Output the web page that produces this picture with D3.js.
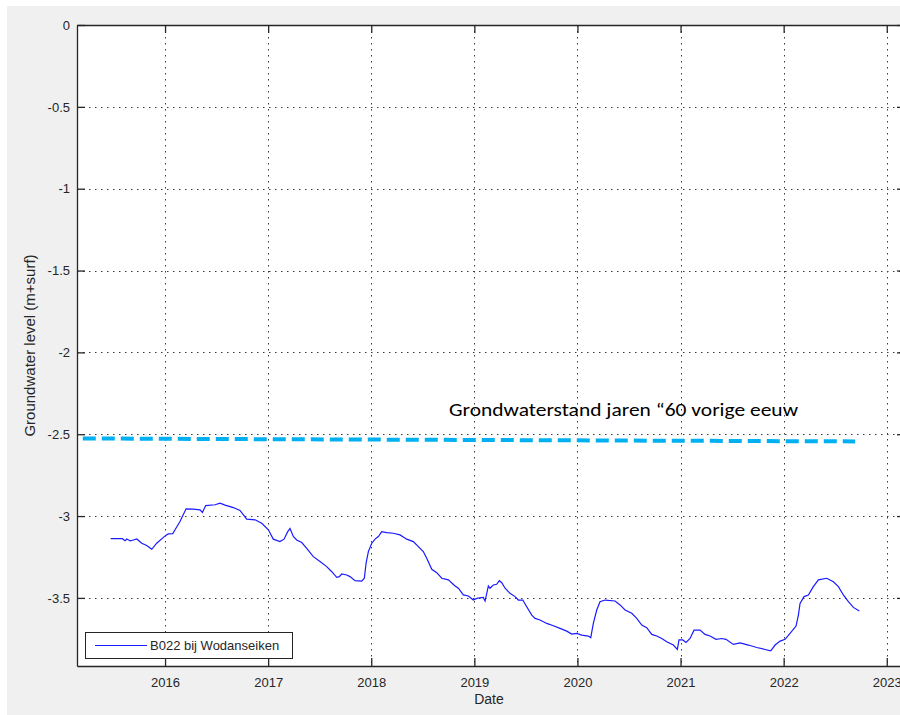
<!DOCTYPE html>
<html>
<head>
<meta charset="utf-8">
<script src="https://cdn.jsdelivr.net/npm/d3@7"></script>
<style>
  html, body { margin: 0; padding: 0; background: #ffffff; }
  svg { display: block; }
</style>
</head>
<body>
<svg id="chart" width="900" height="715"></svg>
<script>
// ---- data ----
const years = [
  2015.473, 2015.586, 2015.612, 2015.629, 2015.661, 2015.693, 2015.726, 2015.774, 2015.822, 2015.871,
  2015.919, 2015.984, 2016.010, 2016.032, 2016.075, 2016.097, 2016.145, 2016.204, 2016.274, 2016.339,
  2016.362, 2016.395, 2016.485, 2016.533, 2016.582, 2016.662, 2016.727, 2016.792, 2016.873, 2016.938,
  2017.002, 2017.050, 2017.115, 2017.154, 2017.190, 2017.212, 2017.244, 2017.277, 2017.326, 2017.374,
  2017.438, 2017.503, 2017.568, 2017.617, 2017.665, 2017.690, 2017.714, 2017.762, 2017.794, 2017.843,
  2017.908, 2017.933, 2017.950, 2017.972, 2018.005, 2018.037, 2018.069, 2018.102, 2018.150, 2018.214,
  2018.279, 2018.344, 2018.408, 2018.457, 2018.505, 2018.538, 2018.587, 2018.635, 2018.684, 2018.748,
  2018.813, 2018.845, 2018.893, 2018.942, 2018.990, 2019.023, 2019.055, 2019.087, 2019.104, 2019.136,
  2019.152, 2019.184, 2019.217, 2019.242, 2019.266, 2019.298, 2019.346, 2019.395, 2019.427, 2019.470,
  2019.508, 2019.557, 2019.589, 2019.637, 2019.702, 2019.766, 2019.831, 2019.896, 2019.945, 2019.993,
  2020.042, 2020.106, 2020.129, 2020.154, 2020.187, 2020.219, 2020.268, 2020.365, 2020.413, 2020.462,
  2020.527, 2020.575, 2020.624, 2020.672, 2020.721, 2020.769, 2020.818, 2020.866, 2020.930, 2020.969,
  2020.985, 2021.021, 2021.053, 2021.092, 2021.131, 2021.189, 2021.238, 2021.286, 2021.344, 2021.400,
  2021.441, 2021.512, 2021.577, 2021.658, 2021.739, 2021.820, 2021.875, 2021.917, 2021.966, 2022.014,
  2022.062, 2022.120, 2022.143, 2022.159, 2022.198, 2022.240, 2022.288, 2022.337, 2022.418, 2022.482,
  2022.531, 2022.579, 2022.628, 2022.676, 2022.734
];
const levels = [
  -3.138, -3.138, -3.150, -3.140, -3.152, -3.146, -3.140, -3.166, -3.180, -3.203,
  -3.166, -3.130, -3.117, -3.109, -3.107, -3.084, -3.033, -2.956, -2.958, -2.962,
  -2.978, -2.936, -2.931, -2.921, -2.933, -2.948, -2.966, -3.019, -3.023, -3.044,
  -3.084, -3.141, -3.156, -3.141, -3.095, -3.076, -3.125, -3.146, -3.162, -3.197,
  -3.248, -3.278, -3.309, -3.340, -3.374, -3.370, -3.354, -3.360, -3.370, -3.395,
  -3.397, -3.380, -3.288, -3.217, -3.166, -3.141, -3.125, -3.095, -3.101, -3.105,
  -3.115, -3.141, -3.156, -3.187, -3.217, -3.258, -3.325, -3.346, -3.380, -3.390,
  -3.427, -3.441, -3.482, -3.488, -3.513, -3.503, -3.499, -3.497, -3.519, -3.427,
  -3.441, -3.421, -3.417, -3.395, -3.407, -3.441, -3.472, -3.492, -3.513, -3.513,
  -3.554, -3.605, -3.625, -3.635, -3.656, -3.670, -3.686, -3.703, -3.721, -3.717,
  -3.727, -3.733, -3.743, -3.656, -3.574, -3.523, -3.513, -3.519, -3.543, -3.574,
  -3.594, -3.625, -3.666, -3.682, -3.723, -3.733, -3.748, -3.768, -3.788, -3.815,
  -3.757, -3.757, -3.772, -3.748, -3.697, -3.697, -3.723, -3.733, -3.753, -3.748,
  -3.753, -3.784, -3.775, -3.788, -3.803, -3.815, -3.823, -3.788, -3.764, -3.753,
  -3.717, -3.672, -3.605, -3.534, -3.492, -3.482, -3.431, -3.390, -3.380, -3.401,
  -3.431, -3.482, -3.523, -3.558, -3.580
];
const seriesName = "B022 bij Wodanseiken";

const refYears = [2015.202, 2022.693];
const refLevels = [-2.526, -2.544];
const refLabel = "Grondwaterstand jaren \u201C60 vorige eeuw";

const xTicks = [2016, 2017, 2018, 2019, 2020, 2021, 2022, 2023];
const yTicks = [0, -0.5, -1, -1.5, -2, -2.5, -3, -3.5];
const xDomain = [2015.146, 2023.177];
const yDomain = [-3.916, 0];
const xLabel = "Date";
const yLabel = "Groundwater level (m+surf)";

// ---- layout ----
const svg = d3.select("#chart");
const L = 77, R = 905, T = 25, B = 666;
const font = "Arial, 'Liberation Sans', Helvetica, sans-serif";
const axisColor = "#262626";

svg.append("rect").attr("x", 7).attr("y", 6).attr("width", 893).attr("height", 709).attr("fill", "#f0f0f0");
svg.append("rect").attr("x", L).attr("y", T).attr("width", R - L).attr("height", B - T).attr("fill", "#ffffff");

const x = d3.scaleLinear().domain(xDomain).range([L, R]);
const y = d3.scaleLinear().domain(yDomain).range([B, T]);

// grid
const grid = svg.append("g").attr("stroke", "#262626").attr("stroke-width", 1)
  .attr("stroke-dasharray", "1.5,4.5").attr("opacity", 0.9);
grid.selectAll("line.gx").data(xTicks).join("line")
  .attr("x1", d => Math.round(x(d)) + 0.5).attr("x2", d => Math.round(x(d)) + 0.5)
  .attr("y1", T).attr("y2", B);
grid.selectAll("line.gy").data(yTicks).join("line")
  .attr("y1", d => Math.round(y(d)) + 0.5).attr("y2", d => Math.round(y(d)) + 0.5)
  .attr("x1", L).attr("x2", R);

// axes (MATLAB-like inward ticks, box)
const tickLen = 8;
const xAxisB = d3.axisBottom(x).tickValues(xTicks).tickFormat(d => String(d)).tickSizeInner(-tickLen).tickSizeOuter(0).tickPadding(12);
const xAxisT = d3.axisTop(x).tickValues(xTicks).tickFormat("").tickSizeInner(-tickLen).tickSizeOuter(0);
const yAxisL = d3.axisLeft(y).tickValues(yTicks).tickFormat(d => String(d)).tickSizeInner(-tickLen).tickSizeOuter(0).tickPadding(7);
const yAxisR = d3.axisRight(y).tickValues(yTicks).tickFormat("").tickSizeInner(-tickLen).tickSizeOuter(0);

function style(g) {
  g.selectAll("path").attr("stroke", axisColor).attr("stroke-width", 1.3);
  g.selectAll("line").attr("stroke", axisColor).attr("stroke-width", 1.3);
  g.selectAll("text").attr("fill", "#262626").style("font-family", font).style("font-size", "13px");
}
svg.append("g").attr("transform", `translate(0,${B})`).call(xAxisB).call(style);
svg.append("g").attr("transform", `translate(0,${T})`).call(xAxisT).call(style);
svg.append("g").attr("transform", `translate(${L},0)`).call(yAxisL).call(style);
svg.append("g").attr("transform", `translate(${R},0)`).call(yAxisR).call(style);

// data line
const pts = years.map((d, i) => [d, levels[i]]);
svg.append("path").datum(pts)
  .attr("fill", "none").attr("stroke", "#1a1aff").attr("stroke-width", 1.2)
  .attr("d", d3.line().x(d => x(d[0])).y(d => y(d[1])));

// reference dashed line (overlay annotation)
const refPts = refYears.map((d, i) => [d, refLevels[i]]);
svg.append("path").datum(refPts)
  .attr("fill", "none").attr("stroke", "#00b0f0").attr("stroke-width", 4)
  .attr("stroke-dasharray", "13,6")
  .attr("d", d3.line().x(d => x(d[0])).y(d => y(d[1])));

svg.append("text").attr("x", 449).attr("y", 416)
  .attr("textLength", 349).attr("lengthAdjust", "spacingAndGlyphs")
  .style("font-family", "Carlito, Lato, 'Open Sans', sans-serif").style("font-size", "18px")
  .style("font-weight", "400")
  .attr("fill", "#000").text(refLabel);

// axis labels
svg.append("text").attr("x", 489).attr("y", 704).attr("text-anchor", "middle")
  .style("font-family", font).style("font-size", "14px").attr("fill", "#262626").text(xLabel);
svg.append("text").attr("transform", `translate(35,${(T + B) / 2}) rotate(-90)`).attr("text-anchor", "middle")
  .style("font-family", font).style("font-size", "15px").attr("fill", "#262626").text(yLabel);

// legend
const lg = svg.append("g");
lg.append("rect").attr("x", 85.5).attr("y", 632.5).attr("width", 207).attr("height", 26)
  .attr("fill", "#ffffff").attr("stroke", axisColor).attr("stroke-width", 1);
lg.append("line").attr("x1", 95).attr("x2", 147).attr("y1", 645.5).attr("y2", 645.5)
  .attr("stroke", "#1a1aff").attr("stroke-width", 1.2);
lg.append("text").attr("x", 150).attr("y", 650)
  .style("font-family", font).style("font-size", "13px").attr("fill", "#262626").text(seriesName);
</script>
</body>
</html>
